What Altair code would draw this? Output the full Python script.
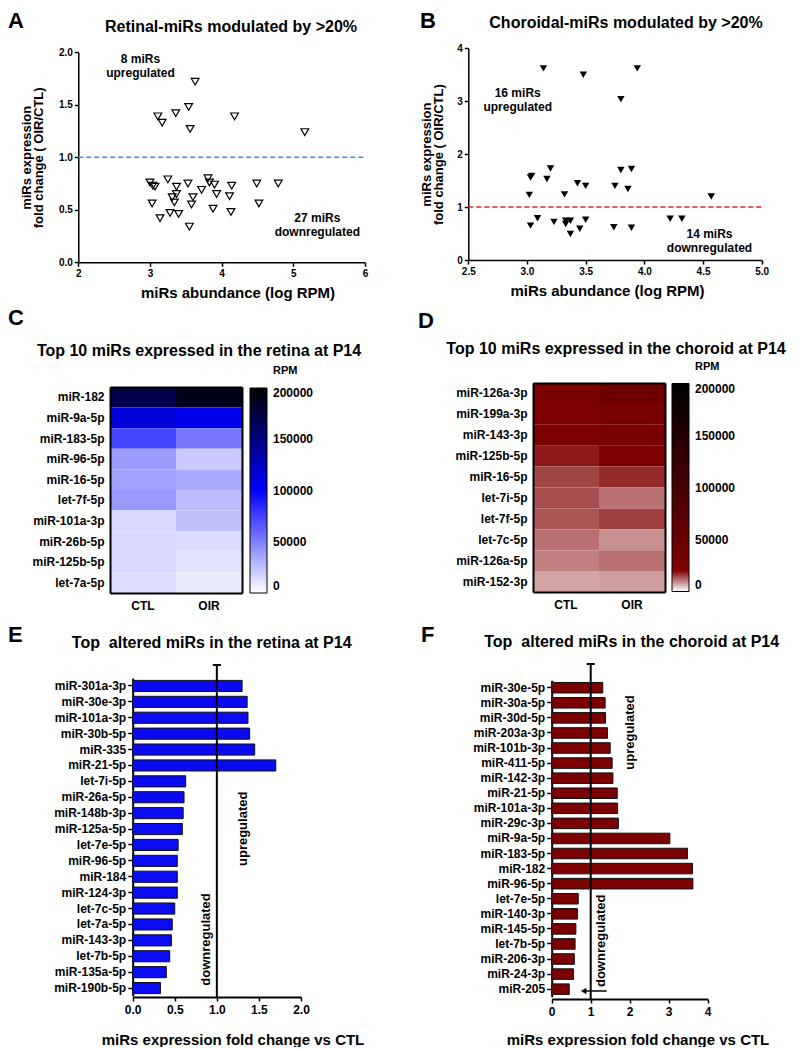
import altair as alt
import pandas as pd

FONT = "Liberation Sans"
W, H = 782, 1033
M = 8

# ---------------- data ----------------
# Panel A: retinal miRs (abundance log RPM, fold change OIR/CTL)
a_abund = [3.63, 3.54, 3.36, 3.11, 3.17, 3.56, 4.18, 5.16,
           3.00, 3.04, 3.07, 3.25, 3.37, 3.53, 3.81, 3.83, 3.90, 4.14, 4.49, 4.79,
           3.72, 3.37, 3.31, 3.93, 4.11, 3.60, 3.34, 3.03, 3.58, 4.52, 3.88, 3.28,
           3.40, 3.14, 4.13, 3.55]
a_fold = [1.72, 1.48, 1.42, 1.39, 1.33, 1.27, 1.39, 1.24,
          0.76, 0.73, 0.72, 0.79, 0.72, 0.75, 0.80, 0.76, 0.74, 0.73, 0.75, 0.75,
          0.69, 0.65, 0.62, 0.65, 0.63, 0.62, 0.57, 0.56, 0.55, 0.56, 0.51, 0.47,
          0.46, 0.42, 0.48, 0.34]

# Panel B: choroidal miRs
b_abund = [3.14, 3.48, 3.94, 3.80, 3.04, 3.03, 3.20, 3.17, 3.02, 3.32, 3.43, 3.50,
           3.75, 3.80, 3.89, 3.86, 4.57,
           3.03, 3.09, 3.23, 3.33, 3.37, 3.33, 3.37, 3.45, 3.50, 3.74, 3.89, 4.22, 4.32]
b_fold = [3.62, 3.50, 3.62, 3.04, 1.59, 1.56, 1.73, 1.53, 1.23, 1.24, 1.45, 1.40,
          1.40, 1.70, 1.72, 1.34, 1.20,
          0.65, 0.79, 0.72, 0.74, 0.74, 0.68, 0.49, 0.59, 0.76, 0.62, 0.61, 0.78, 0.78]

groups = ["CTL", "OIR"]
rpm_ticks = [0, 50000, 100000, 150000, 200000]

# Panel C: top 10 retina (RPM)
c_mirs = ["miR-182", "miR-9a-5p", "miR-183-5p", "miR-96-5p", "miR-16-5p",
          "let-7f-5p", "miR-101a-3p", "miR-26b-5p", "miR-125b-5p", "let-7a-5p"]
c_ctl = [171000, 115000, 73000, 39000, 37000, 40000, 15500, 15500, 15500, 13700]
c_oir = [190000, 107000, 53000, 21000, 32500, 26000, 24700, 13700, 10600, 7500]

# Panel D: top 10 choroid (RPM)
d_mirs = ["miR-126a-3p", "miR-199a-3p", "miR-143-3p", "miR-125b-5p", "miR-16-5p",
          "let-7i-5p", "let-7f-5p", "let-7c-5p", "miR-126a-5p", "miR-152-3p"]
d_ctl = [28000, 24000, 27000, 18000, 14600, 14000, 13300, 11200, 10000, 7100]
d_oir = [42500, 31000, 28000, 24000, 16700, 11200, 15000, 8700, 11200, 7500]

# Panel E: top altered retina
e_mirs = ["miR-301a-3p", "miR-30e-3p", "miR-101a-3p", "miR-30b-5p", "miR-335",
          "miR-21-5p", "let-7i-5p", "miR-26a-5p", "miR-148b-3p", "miR-125a-5p",
          "let-7e-5p", "miR-96-5p", "miR-184", "miR-124-3p", "let-7c-5p",
          "let-7a-5p", "miR-143-3p", "let-7b-5p", "miR-135a-5p", "miR-190b-5p"]
e_fc = [1.30, 1.36, 1.37, 1.39, 1.45, 1.70, 0.63, 0.61, 0.60, 0.59,
        0.54, 0.53, 0.53, 0.53, 0.50, 0.47, 0.46, 0.44, 0.40, 0.33]

# Panel F: top altered choroid
f_mirs = ["miR-30e-5p", "miR-30a-5p", "miR-30d-5p", "miR-203a-3p", "miR-101b-3p",
          "miR-411-5p", "miR-142-3p", "miR-21-5p", "miR-101a-3p", "miR-29c-3p",
          "miR-9a-5p", "miR-183-5p", "miR-182", "miR-96-5p", "let-7e-5p",
          "miR-140-3p", "miR-145-5p", "let-7b-5p", "miR-206-3p", "miR-24-3p", "miR-205"]
f_fc = [1.31, 1.37, 1.38, 1.43, 1.50, 1.55, 1.57, 1.68, 1.69, 1.71,
        3.03, 3.48, 3.61, 3.62, 0.68, 0.66, 0.62, 0.60, 0.58, 0.56, 0.45]


# ---------------- helpers ----------------
def gx(p):
    return p - M


def gy(p):
    return p - M


def off_bottom(p):
    return gy(p) - H


def off_left(p):
    return -gx(p)


def off_top(p):
    return -gy(p)


def off_right(p):
    return gx(p) - W


one = pd.DataFrame({"k": [0]})


def text(t, px, py, size=12, angle=0, align="center", baseline="middle", lh=None):
    kw = dict(font=FONT, fontSize=size, fontWeight="bold", align=align,
              baseline=baseline, angle=angle, color="black")
    if lh:
        kw["lineHeight"] = lh
    return alt.Chart(one).mark_text(**kw).encode(
        x=alt.value(gx(px)), y=alt.value(gy(py)), text=alt.value(t))


def ann(t, xv, yv, sx, sy, axx, axy, size=12, lh=14):
    return alt.Chart(one).mark_text(font=FONT, fontSize=size, fontWeight="bold",
                                    color="black", lineHeight=lh).encode(
        x=alt.X(datum=xv, scale=sx, axis=axx), y=alt.Y(datum=yv, scale=sy, axis=axy),
        text=alt.value(t))


def scatter(df, xdom, xr, ydom, yr, xvals, xfmt, yvals, yfmt, ytitle_x, title_x,
            filled, line_color, anns):
    sx = alt.Scale(domain=xdom, range=[gx(xr[0]), gx(xr[1])], nice=False, zero=False)
    sy = alt.Scale(domain=ydom, range=[gy(yr[0]), gy(yr[1])], nice=False, zero=False)
    axx = alt.Axis(orient="bottom", offset=off_bottom(yr[0]), values=xvals, format=xfmt,
                   title="miRs abundance (log RPM)", titleX=gx(title_x), titleY=30,
                   titleAlign="center", titleBaseline="middle", titleFontSize=15,
                   labelFontSize=10, tickSize=4, labelPadding=2, domainWidth=1.5,
                   tickWidth=1.5)
    axy = alt.Axis(orient="left", offset=off_left(xr[0]), values=yvals, format=yfmt,
                   title=["miRs expression", "fold change ( OIR/CTL)"],
                   titleX=ytitle_x, titleY=gy((yr[0] + yr[1]) / 2), titleAngle=270,
                   titleAlign="center", titleBaseline="middle", titleFontSize=13,
                   titleLineHeight=12, labelFontSize=10, tickSize=4, labelPadding=2,
                   domainWidth=1.5, tickWidth=1.5)
    if filled:
        mk = dict(shape="triangle-down", filled=True, size=55, color="black", opacity=1)
    else:
        mk = dict(shape="triangle-down", filled=False, size=60, color="black",
                  strokeWidth=1.2, opacity=1)
    pts = alt.Chart(df).mark_point(**mk).encode(
        x=alt.X("abund:Q", scale=sx, axis=axx),
        y=alt.Y("fold:Q", scale=sy, axis=axy))
    rule = alt.Chart(one).mark_rule(color=line_color, strokeDash=[5, 3],
                                    strokeWidth=1.5).encode(
        x=alt.X(datum=xdom[0], scale=sx, axis=axx), x2=alt.X2(datum=xdom[1]),
        y=alt.Y(datum=1, scale=sy, axis=axy))
    layers = [pts, rule] + [ann(t, xv, yv, sx, sy, axx, axy) for (t, xv, yv) in anns]
    return alt.layer(*layers)


# ---------------- Panels A, B ----------------
panelA = scatter(pd.DataFrame({"abund": a_abund, "fold": a_fold}),
                 [2, 6], (78.3, 365), [0, 2], (262.3, 52.3),
                 [2, 3, 4, 5, 6], "d", [0, 0.5, 1, 1.5, 2], ".1f", -51.5, 237.5,
                 False, "#3b8fd9",
                 [(["8 miRs", "upregulated"], 2.868, 1.936),
                  (["27 miRs", "downregulated"], 5.335, 0.42)])
panelB = scatter(pd.DataFrame({"abund": b_abund, "fold": b_fold}),
                 [2.5, 5], (468.3, 761.7), [0, 4], (260, 48.3),
                 [2.5, 3, 3.5, 4, 4.5, 5], ".1f", [0, 1, 2, 3, 4], "d", -41.5, 607,
                 True, "#e8262a",
                 [(["16 miRs", "upregulated"], 2.921, 3.163),
                  (["14 miRs", "downregulated"], 4.555, 0.488)])


# ---------------- Heatmaps ----------------
def heatmap(mirs, ctl, oir, x0, x1, y0, y1, cscale, lx, ly, glen):
    df = pd.DataFrame({"mir": mirs * 2, "group": ["CTL"] * len(mirs) + ["OIR"] * len(mirs),
                       "rpm": ctl + oir})
    sx = alt.Scale(type="band", domain=groups, range=[gx(x0), gx(x1)],
                   paddingInner=0, paddingOuter=0)
    sy = alt.Scale(type="band", domain=mirs, range=[gy(y0), gy(y1)],
                   paddingInner=0, paddingOuter=0)
    rect = alt.Chart(df).mark_rect().encode(
        x=alt.X("group:N", scale=sx,
                axis=alt.Axis(orient="bottom", offset=off_bottom(y1), title=None, labelAngle=0,
                              ticks=False, labelPadding=7, labelFontSize=12, domainWidth=2)),
        y=alt.Y("mir:N", scale=sy,
                axis=alt.Axis(orient="left", offset=off_left(x0), title=None, ticks=False,
                              labelPadding=6, labelFontSize=12, domainWidth=2)),
        color=alt.Color("rpm:Q", scale=cscale,
                        legend=alt.Legend(orient="none", legendX=gx(lx), legendY=gy(ly),
                                          title=None, direction="vertical",
                                          gradientLength=glen, gradientThickness=17,
                                          values=rpm_ticks, format="d", labelFontSize=12,
                                          labelFont=FONT, labelFontWeight="bold",
                                          labelBaseline="middle", labelOffset=6,
                                          labelOverlap=False, gradientStrokeColor="black",
                                          gradientStrokeWidth=1, padding=0)),
    )
    frame = alt.Chart(df).mark_rect(opacity=0).encode(
        x=alt.X("group:N", scale=sx,
                axis=alt.Axis(orient="top", offset=off_top(y0), title=None, labels=False,
                              ticks=False, domainWidth=2)),
        y=alt.Y("mir:N", scale=sy,
                axis=alt.Axis(orient="right", offset=off_right(x1), title=None, labels=False,
                              ticks=False, domainWidth=2)),
    )
    return alt.layer(rect, frame)


panelC = heatmap(c_mirs, c_ctl, c_oir, 110, 242, 387, 593,
                 alt.Scale(domain=[0, 100000, 200000], range=["#ffffff", "#0000ff", "#000000"],
                           interpolate="rgb"),
                 250, 388, 205)
panelD = heatmap(d_mirs, d_ctl, d_oir, 533, 665, 383, 592,
                 alt.Scale(domain=[0, 20000, 200000], range=["#ffffff", "#800000", "#000000"],
                           interpolate="rgb"),
                 672, 383.5, 208)


# ---------------- Bar charts ----------------
def bars(mirs, fc, dom, xvals, fmt, x0, x1, y0, y1, yaxis_y, fill, title_x, rule_top, extra=()):
    df = pd.DataFrame({"mir": mirs, "fc": fc})
    sx = alt.Scale(domain=dom, range=[gx(x0), gx(x1)], nice=False, zero=True)
    axx = alt.Axis(orient="bottom", offset=off_bottom(yaxis_y), values=xvals,
                   format=fmt, title="miRs expression fold change vs CTL",
                   titleX=gx(title_x), titleY=1039 - yaxis_y, titleAlign="center",
                   titleBaseline="middle", titleFontSize=15, labelFontSize=12,
                   tickSize=4, labelPadding=3, domainWidth=2, tickWidth=1.5)
    b = alt.Chart(df).mark_bar(color=fill, stroke="#111111", strokeWidth=1).encode(
        x=alt.X("fc:Q", scale=sx, axis=axx),
        y=alt.Y("mir:N",
                scale=alt.Scale(type="band", domain=mirs, range=[gy(y0), gy(y1)],
                                paddingInner=0.3, paddingOuter=0.15),
                axis=alt.Axis(orient="left", offset=off_left(x0), title=None, tickSize=5,
                              labelPadding=2, labelFontSize=12, domainWidth=2, tickWidth=1.5)),
    )
    rule = alt.Chart(one).mark_rule(color="black", strokeWidth=2).encode(
        x=alt.X(datum=1, scale=sx, axis=axx), y=alt.value(gy(rule_top)),
        y2=alt.value(gy(yaxis_y)))
    cap = alt.Chart(one).mark_point(shape="M-1,0L1,0", size=64, filled=False, color="black",
                                    strokeWidth=2, opacity=1).encode(
        x=alt.X(datum=1, scale=sx, axis=axx), y=alt.value(gy(rule_top)))
    layers = [b, rule, cap]
    for (x_a, x_b, yy) in extra:
        layers.append(alt.Chart(one).mark_rule(color="black", strokeWidth=1.5).encode(
            x=alt.X(datum=x_a, scale=sx, axis=axx), x2=alt.X2(datum=x_b),
            y=alt.value(gy(yy))))
        layers.append(alt.Chart(one).mark_point(shape="triangle-left", size=40, filled=True,
                                                color="black", opacity=1).encode(
            x=alt.X(datum=x_a + 0.02, scale=sx, axis=axx), y=alt.value(gy(yy))))
    return alt.layer(*layers)


panelE = bars(e_mirs, e_fc, [0, 2], [0, 0.5, 1, 1.5, 2], ".1f", 132.7, 301, 678, 996, 997,
              "#0b0bf2", 232.5, 665)
panelF = bars(f_mirs, f_fc, [0, 4], [0, 1, 2, 3, 4], "d", 551.7, 707.7, 680.2, 996.7, 999,
              "#7b0000", 637.5, 664, extra=[(0.8, 1.41, 991)])

# ---------------- texts ----------------
texts = [
    text("A", 8, 28, size=22, align="left", baseline="alphabetic"),
    text("B", 420, 28, size=22, align="left", baseline="alphabetic"),
    text("C", 8, 325, size=22, align="left", baseline="alphabetic"),
    text("D", 418, 328, size=22, align="left", baseline="alphabetic"),
    text("E", 8, 642, size=22, align="left", baseline="alphabetic"),
    text("F", 421, 642, size=22, align="left", baseline="alphabetic"),
    text("Retinal-miRs modulated by >20%", 231, 27, size=16),
    text("Choroidal-miRs modulated by >20%", 626, 23, size=16),
    text("Top 10 miRs expressed in the retina at P14", 199, 351, size=16),
    text("Top 10 miRs expressed in the choroid at P14", 616, 348.5, size=16),
    text("Top\u00a0 altered miRs in the retina at P14", 211.7, 642.5, size=16),
    text("Top\u00a0 altered miRs in the choroid at P14", 631.7, 641.7, size=16),
    text("RPM", 273, 370.5, size=11, align="left"),
    text("RPM", 695, 366.5, size=11, align="left"),
    text("upregulated", 243.3, 828.8, size=13, angle=270),
    text("downregulated", 206, 939.5, size=13, angle=270),
    text("upregulated", 630, 732.5, size=13, angle=270),
    text("downregulated", 601, 940.8, size=13, angle=270),
]

chart = alt.layer(panelA, panelB, panelC, panelD, panelE, panelF, *texts).resolve_scale(
    x="independent", y="independent", color="independent"
).properties(width=W, height=H, padding=0).configure_view(stroke=None).configure_axis(
    grid=False, labelFont=FONT, titleFont=FONT, labelFontWeight="bold",
    titleFontWeight="bold", labelColor="black", titleColor="black", domainColor="black",
    tickColor="black", labelFlush=False, labelOverlap=False
).configure_legend(labelFont=FONT, labelColor="black")

chart.save("out.html", embed_options={"renderer": "svg", "actions": False})
